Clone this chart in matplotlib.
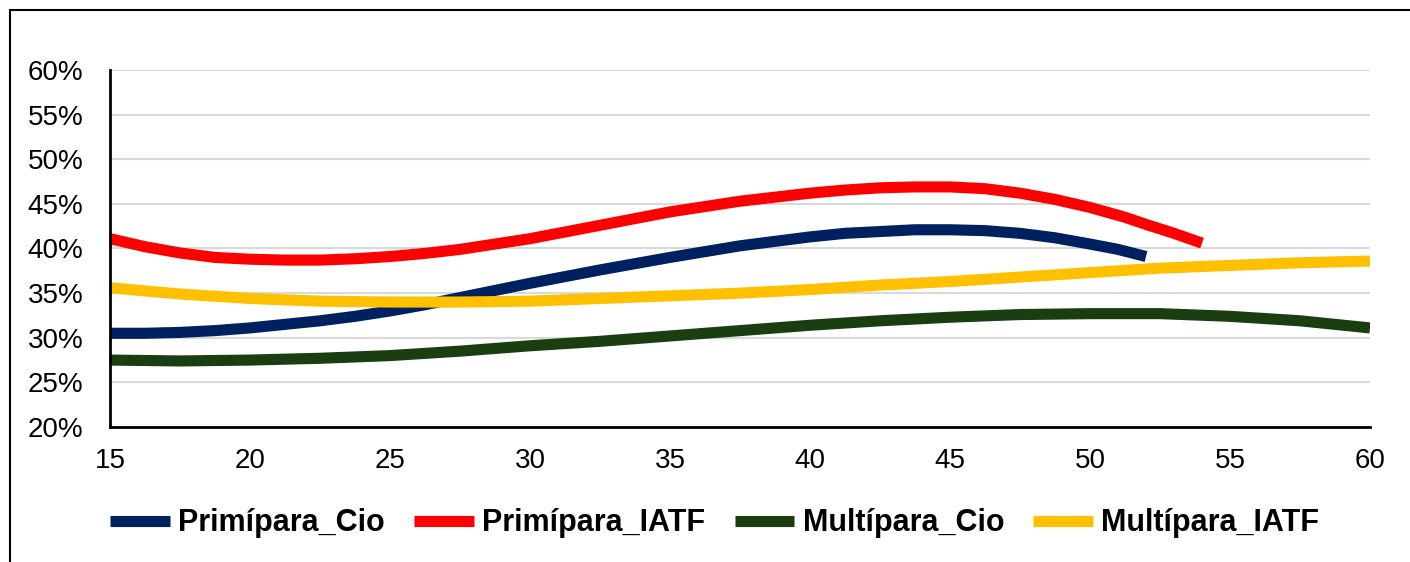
import matplotlib
matplotlib.use('Agg')
import matplotlib.pyplot as plt
from matplotlib.lines import Line2D
from matplotlib.ticker import FuncFormatter

plt.rcParams['font.family'] = ['Liberation Sans', 'DejaVu Sans']

# idade (anos) e taxa de prenhez (%)
idade = [15, 17.5, 20, 22.5, 25, 27.5, 30, 32.5, 35, 37.5, 40, 42.5, 45,
         47.5, 50, 52.5, 55, 57.5, 60]
idade_prim = [15, 16.25, 17.5, 18.75, 20, 21.25, 22.5, 23.75, 25, 26.25, 27.5,
              30, 32.5, 35, 37.5, 40, 41.25, 42.5, 43.75, 45, 46.25, 47.5,
              48.75, 50, 51, 52]
idade_prim_iatf = [15, 16.25, 17.5, 18.75, 20, 21.25, 22.5, 23.75, 25, 26.25,
                   27.5, 28.75, 30, 32.5, 35, 37.5, 40, 41.25, 42.5, 43.75, 45,
                   46.25, 47.5, 48.75, 50, 51.25, 52, 53, 54]

prim_cio = [30.5, 30.5, 30.6, 30.8, 31.1, 31.5, 31.9, 32.4, 33.0, 33.7, 34.5,
            36.1, 37.6, 39.0, 40.3, 41.3, 41.7, 41.9, 42.1, 42.1, 42.0, 41.7,
            41.2, 40.5, 39.9, 39.1]
prim_iatf = [41.1, 40.2, 39.5, 39.0, 38.8, 38.7, 38.7, 38.85, 39.1, 39.45,
             39.9, 40.5, 41.1, 42.6, 44.1, 45.3, 46.2, 46.55, 46.8, 46.9, 46.9,
             46.7, 46.2, 45.5, 44.6, 43.5, 42.7, 41.7, 40.6]
mult_cio = [27.5, 27.4, 27.5, 27.7, 28.0, 28.5, 29.1, 29.6, 30.2, 30.8, 31.4,
            31.9, 32.3, 32.6, 32.7, 32.7, 32.4, 31.9, 31.1]
mult_iatf = [35.6, 34.9, 34.4, 34.1, 34.0, 34.0, 34.1, 34.4, 34.7, 35.0, 35.4,
             35.9, 36.3, 36.8, 37.3, 37.8, 38.1, 38.4, 38.6]

fig = plt.figure(figsize=(14.1, 5.62), dpi=100)
ax = fig.add_axes([110 / 1410, 135 / 562, 1260 / 1410, 357 / 562])

lw = 8
estilo = dict(lw=lw, solid_capstyle='butt', solid_joinstyle='round')
ax.plot(idade_prim, prim_cio, color='#002060', label='Primípara_Cio', **estilo)
ax.plot(idade_prim_iatf, prim_iatf, color='#ff0000', label='Primípara_IATF', **estilo)
ax.plot(idade, mult_cio, color='#1a3d11', label='Multípara_Cio', **estilo)
ax.plot(idade, mult_iatf, color='#ffc000', label='Multípara_IATF', **estilo)

ax.set_xlim(15, 60)
ax.set_ylim(20, 60)
ax.set_xticks(range(15, 61, 5))
ax.set_yticks(range(20, 61, 5))
ax.yaxis.set_major_formatter(FuncFormatter(lambda v, p: '%d%%' % v))
ax.grid(axis='y', color='#d9d9d9', lw=1.5)
ax.set_axisbelow(True)
for s in ['top', 'right']:
    ax.spines[s].set_visible(False)
for s in ['left', 'bottom']:
    ax.spines[s].set_linewidth(2)
    ax.spines[s].set_color('black')
ax.tick_params(axis='both', length=0, labelsize=20)
ax.tick_params(axis='y', pad=19)
ax.tick_params(axis='x', pad=15)

fig.legend(loc='center', bbox_to_anchor=(0.507, 0.069), ncol=4, frameon=False,
           prop={'size': 22, 'weight': 'bold'}, handlelength=1.95,
           columnspacing=0.95, handletextpad=0.28)

# moldura
fig.add_artist(Line2D([10 / 1410, 10 / 1410], [0, 1 - 10 / 562], color='black', lw=1.5,
                      transform=fig.transFigure))
fig.add_artist(Line2D([10 / 1410, 1], [1 - 10 / 562, 1 - 10 / 562], color='black', lw=1.5,
                      transform=fig.transFigure))

fig.savefig('out.png', dpi=100)
